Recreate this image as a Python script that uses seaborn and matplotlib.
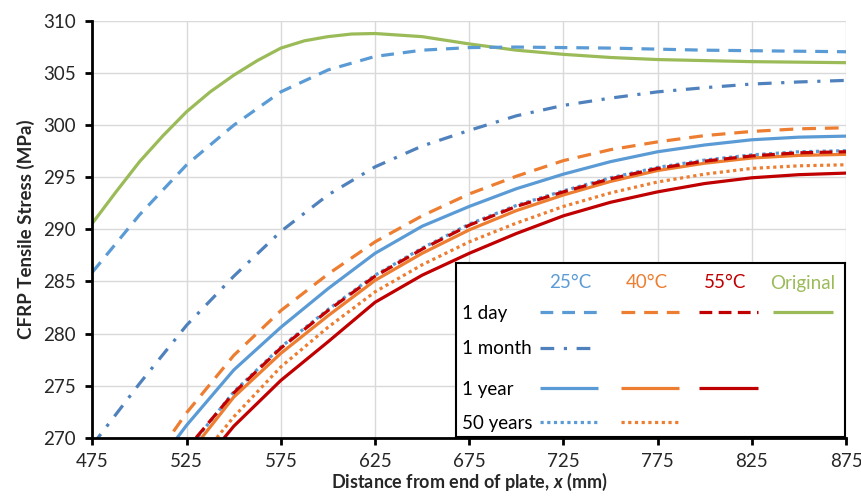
import numpy as np
import pandas as pd
import matplotlib
matplotlib.use('Agg')
import matplotlib.pyplot as plt
import seaborn as sns

# distances (mm) and stresses (MPa)
x_original = [475, 487.5, 500, 512.5, 525, 537.5, 550, 562.5, 575, 587.5, 600, 612.5, 625,
              650, 675, 700, 725, 750, 775, 800, 825, 850, 875]
s_original = [290.6, 293.6, 296.5, 299.0, 301.3, 303.2, 304.8, 306.2, 307.4, 308.1, 308.5, 308.75, 308.8,
              308.5, 307.8, 307.2, 306.8, 306.5, 306.3, 306.2, 306.1, 306.05, 306.0]

x_full = [475, 500, 525, 550, 575, 600, 625, 650, 675, 700, 725, 750, 775, 800, 825, 850, 875]
s_25_day = [285.9, 291.4, 296.2, 300.0, 303.2, 305.3, 306.6, 307.2, 307.45, 307.5, 307.45, 307.4,
            307.3, 307.2, 307.15, 307.1, 307.05]
s_25_month = [269.3, 275.2, 280.8, 285.5, 289.8, 293.3, 296.0, 298.0, 299.5, 300.9, 301.9, 302.6,
              303.2, 303.6, 303.95, 304.15, 304.3]

x_25_year = [520, 525, 550, 575, 600, 625, 650, 675, 700, 725, 750, 775, 800, 825, 850, 875]
s_25_year = [270.0, 271.2, 276.5, 280.6, 284.3, 287.7, 290.3, 292.2, 293.9, 295.3, 296.5, 297.45,
             298.1, 298.6, 298.85, 298.95]

x_25_50y = [531, 550, 575, 600, 625, 650, 675, 700, 725, 750, 775, 800, 825, 850, 875]
s_25_50y = [270.1, 274.4, 278.7, 282.3, 285.6, 288.2, 290.5, 292.3, 293.7, 294.95, 295.95, 296.65,
            297.15, 297.45, 297.55]

x_40_day = [518, 525, 550, 575, 600, 625, 650, 675, 700, 725, 750, 775, 800, 825, 850, 875]
s_40_day = [270.6, 272.4, 277.9, 282.2, 285.7, 288.8, 291.3, 293.4, 295.1, 296.6, 297.65, 298.4,
            299.0, 299.4, 299.65, 299.75]

x_40_year = [533, 550, 575, 600, 625, 650, 675, 700, 725, 750, 775, 800, 825, 850, 875]
s_40_year = [270.0, 273.9, 278.1, 281.7, 285.1, 287.7, 289.95, 291.8, 293.3, 294.6, 295.65, 296.35,
             296.85, 297.1, 297.2]

x_40_50y = [541, 550, 575, 600, 625, 650, 675, 700, 725, 750, 775, 800, 825, 850, 875]
s_40_50y = [270.0, 272.0, 276.8, 280.6, 284.0, 286.6, 288.8, 290.6, 292.2, 293.5, 294.55, 295.3,
            295.85, 296.1, 296.2]

x_55_day = [530, 550, 575, 600, 625, 650, 675, 700, 725, 750, 775, 800, 825, 850, 875]
s_55_day = [270.0, 274.3, 278.6, 282.2, 285.5, 288.1, 290.4, 292.2, 293.6, 294.85, 295.85, 296.55,
            297.05, 297.35, 297.45]

x_55_year = [545, 550, 575, 600, 625, 650, 675, 700, 725, 750, 775, 800, 825, 850, 875]
s_55_year = [270.0, 271.1, 275.5, 279.2, 283.0, 285.6, 287.7, 289.6, 291.3, 292.6, 293.6, 294.4,
             294.95, 295.25, 295.4]

blue = '#5B9BD5'
blue_dk = '#4F81BD'
orange = '#ED7D31'
red = '#C00000'
green = '#9BBB59'

series = [
    ('Original', x_original, s_original, green, ''),
    ('25°C 1 day', x_full, s_25_day, blue, (4, 2.8)),
    ('25°C 1 month', x_full, s_25_month, blue_dk, (4.3, 3, 1, 3)),
    ('25°C 1 year', x_25_year, s_25_year, blue, ''),
    ('25°C 50 years', x_25_50y, s_25_50y, blue, (1, 1.1)),
    ('40°C 1 day', x_40_day, s_40_day, orange, (4.3, 2.8)),
    ('40°C 1 year', x_40_year, s_40_year, orange, ''),
    ('40°C 50 years', x_40_50y, s_40_50y, orange, (1, 1.1)),
    ('55°C 1 day', x_55_day, s_55_day, red, (4, 2)),
    ('55°C 1 year', x_55_year, s_55_year, red, ''),
]

df = pd.concat([pd.DataFrame({'x': xs, 'y': ys, 'series': name})
                for name, xs, ys, _, _ in series], ignore_index=True)
order = [s[0] for s in series]
palette = {s[0]: s[3] for s in series}
dashes = {s[0]: s[4] for s in series}

sns.set_theme(style='white')
plt.rcParams['font.family'] = ['Lato', 'DejaVu Sans']
plt.rcParams['mathtext.fontset'] = 'custom'
plt.rcParams['mathtext.it'] = 'Lato:italic:bold'

fig = plt.figure(figsize=(8.61, 4.98), dpi=100)
ax = fig.add_axes([0.1074, 0.1211, 0.8752, 0.8367])

sns.lineplot(data=df, x='x', y='y', hue='series', style='series', hue_order=order,
             style_order=order, palette=palette, dashes=dashes, linewidth=2.3,
             estimator=None, sort=False, legend=False, ax=ax)

ax.set_xlim(475, 875)
ax.set_ylim(270, 310)
ax.set_xticks(np.arange(475, 876, 50))
ax.set_yticks(np.arange(270, 311, 5))
ax.grid(True, color='#D9D9D9', lw=1)
ax.set_axisbelow(True)
for sp in ['top', 'right']:
    ax.spines[sp].set_visible(False)
for sp in ['left', 'bottom']:
    ax.spines[sp].set_color('black')
    ax.spines[sp].set_linewidth(2)
    ax.spines[sp].set_zorder(5)
ax.tick_params(axis='both', direction='out', length=5, width=2, color='black',
               labelsize=13.5, labelcolor='#262626', bottom=True, left=True)
ax.tick_params(axis='x', pad=6)
ax.tick_params(axis='y', pad=7)
ax.set_xlabel('Distance from end of plate, $x$ (mm)', fontsize=13, fontweight='bold', labelpad=1)
ax.set_ylabel('CFRP Tensile Stress (MPa)', fontsize=13.5, fontweight='bold', labelpad=6)

# table-style legend drawn in a small overlay axes, pixel-like coordinates
lax = fig.add_axes([456 / 861, 1 - 437 / 498, (845 - 456) / 861, (437 - 263) / 498])
lax.set_xlim(456, 845)
lax.set_ylim(437, 263)
lax.set_xticks([])
lax.set_yticks([])
lax.set_facecolor('white')
for sp in lax.spines.values():
    sp.set_color('black')
    sp.set_linewidth(1.5)

headers = [('25°C', 570, blue), ('40°C', 647, orange), ('55°C', 725, red), ('Original', 803, green)]
for txt, cx, c in headers:
    lax.text(cx, 283, txt, color=c, fontsize=13.5, ha='center', va='center')

rows = [('1 day', 312), ('1 month', 348), ('1 year', 388), ('50 years', 422)]
for txt, ry in rows:
    lax.text(462, ry + 1, txt, color='black', fontsize=13.5, ha='left', va='center')

cols = {'25°C': (540, 598), '40°C': (621, 679), '55°C': (699, 758), 'Original': (773, 833)}
row_y = {'1 day': 312, '1 month': 348, '1 year': 388, '50 years': 422}
for name, xs, ys, c, d in series:
    if name == 'Original':
        col, row = 'Original', '1 day'
    else:
        col, row = name.split(' ', 1)
    x0, x1 = cols[col]
    ln, = lax.plot([x0, x1], [row_y[row]] * 2, color=c, lw=2.3, solid_capstyle='butt')
    if d:
        ln.set_dashes(d)

fig.savefig('out.png', dpi=100)
